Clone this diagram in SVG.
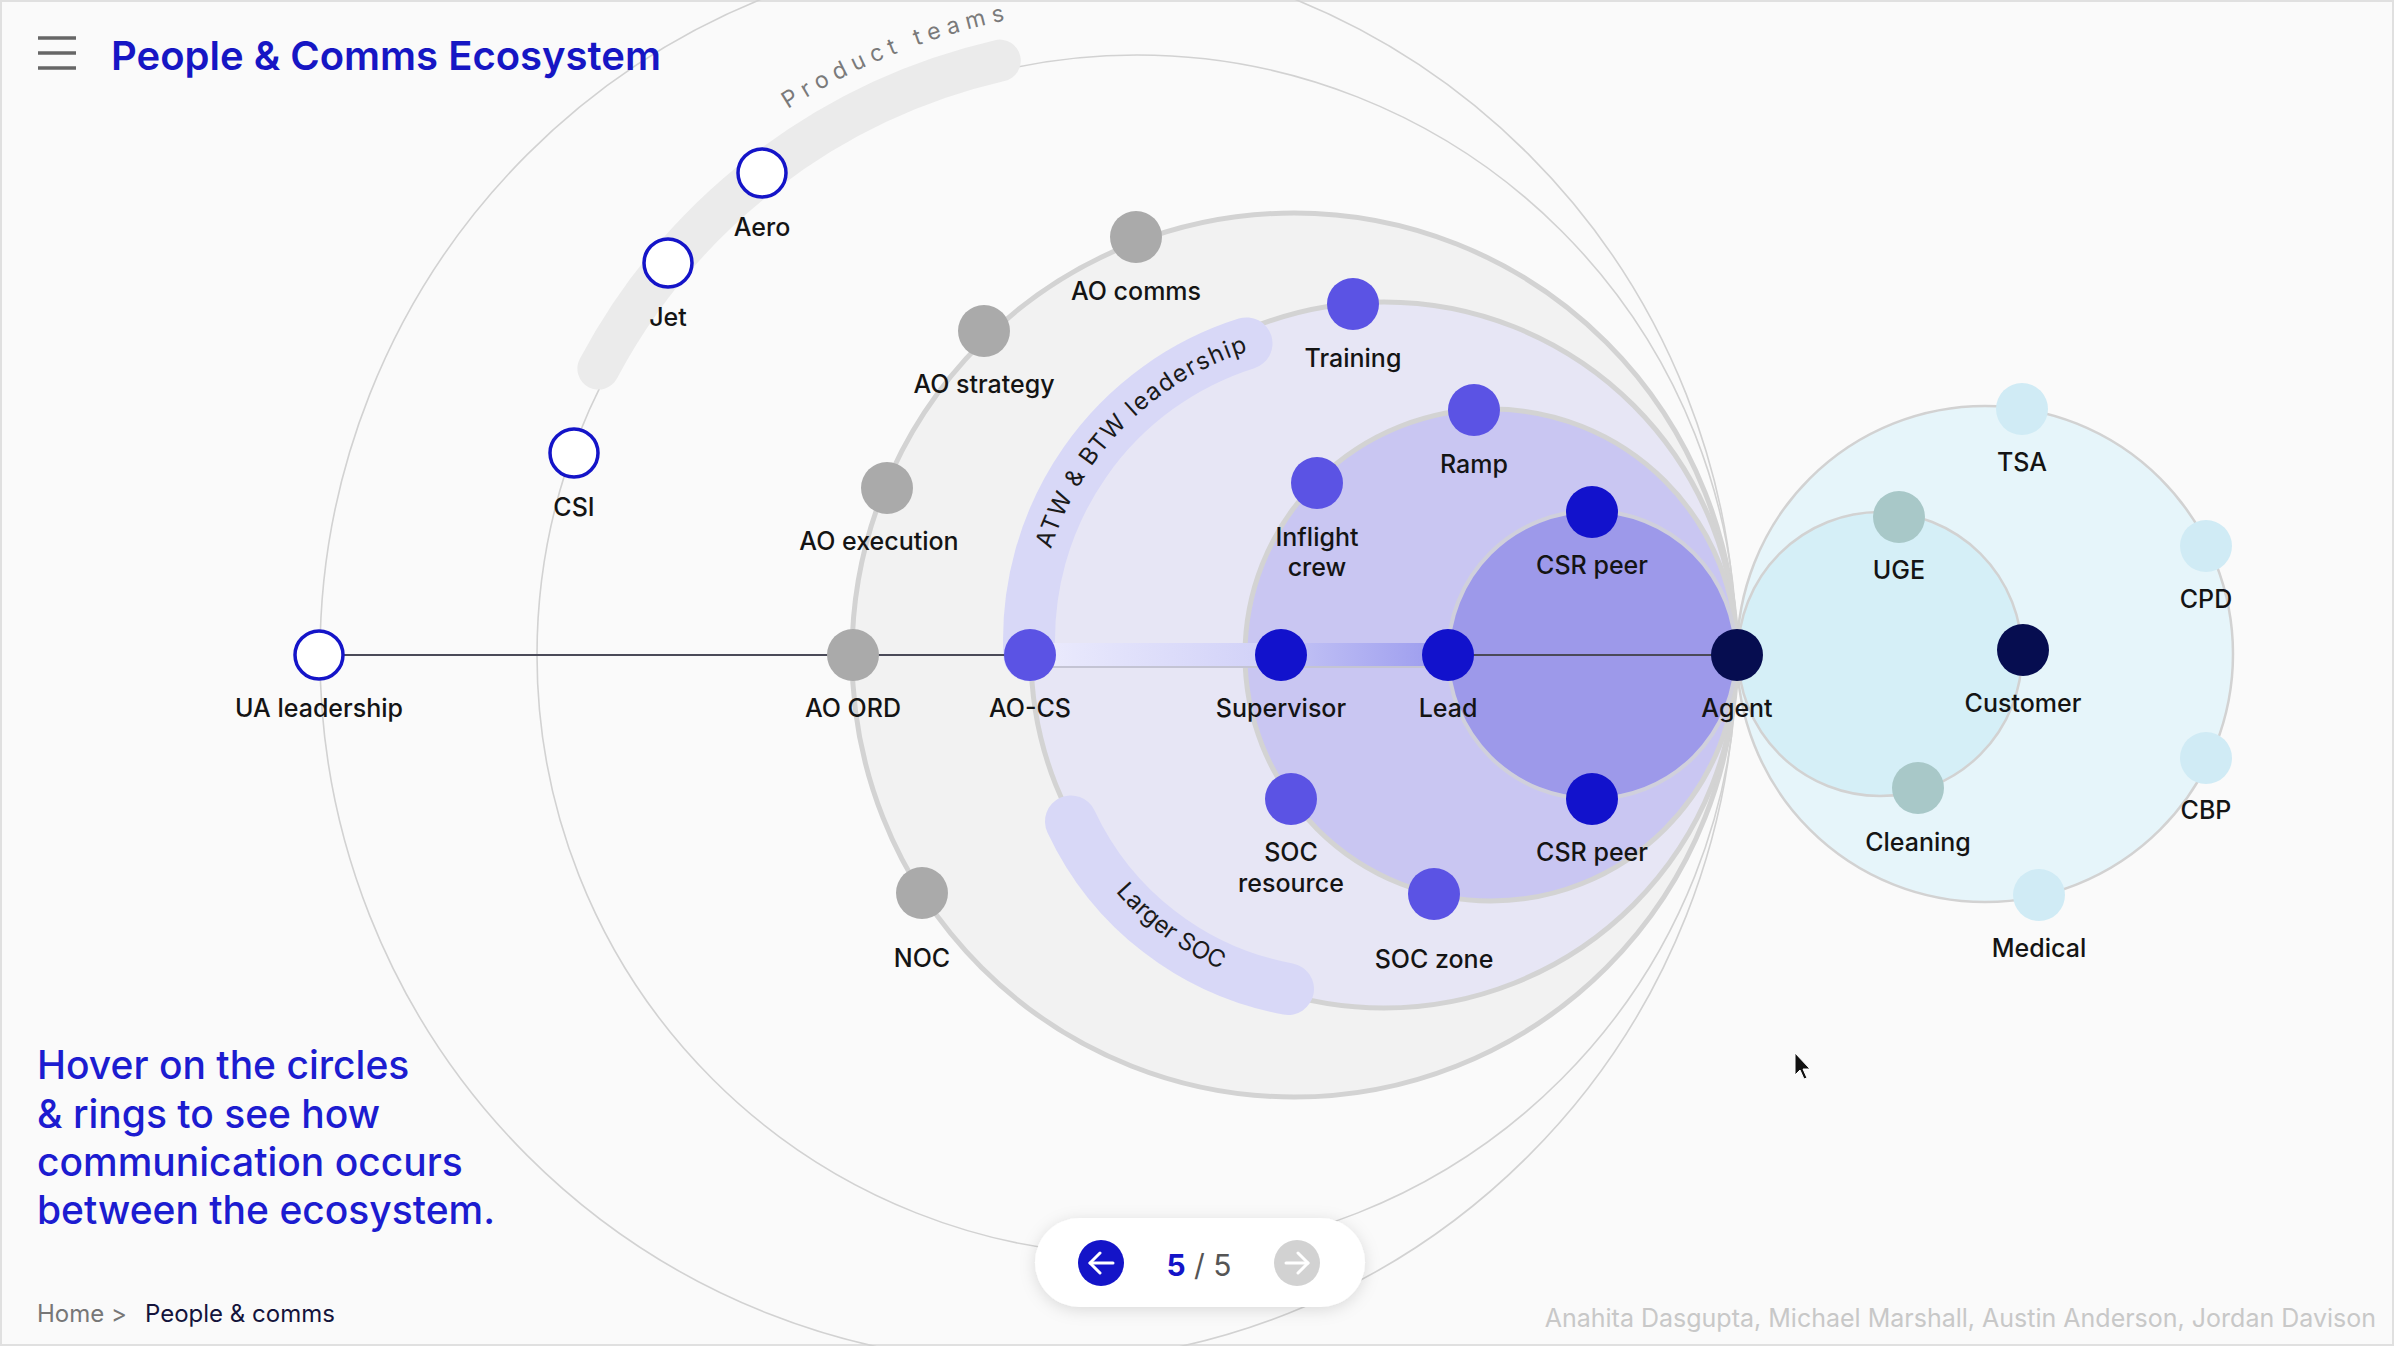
<svg xmlns="http://www.w3.org/2000/svg" width="2394" height="1346" viewBox="0 0 2394 1346">
<style>
.lbl{font-family:Inter,"Liberation Sans",sans-serif;font-size:25px;font-weight:500;fill:#141414;text-anchor:middle}
.thin{fill:none;stroke:#d2d2d2;stroke-width:1.6}
.ring{stroke:#d3d3d3;stroke-width:5}
.open{fill:#ffffff;stroke:#1414c8;stroke-width:3.5}
.gray{fill:#aaaaaa}
.mid{fill:#5b53e4}
.deep{fill:#1212cc}
.navy{fill:#060d50}
.lb{fill:#d0ebf5}
.teal{fill:#a8c8c8}
.band{fill:none;stroke-linecap:round}
.arc{font-family:Inter,"Liberation Sans",sans-serif;font-size:24px;fill:#1a1a1a}
</style>
<defs>
<linearGradient id="barg" x1="0" y1="0" x2="1" y2="0">
<stop offset="0" stop-color="#ececfd"/>
<stop offset="0.55" stop-color="#d2d2f8"/>
<stop offset="0.62" stop-color="#c2c2f5"/>
<stop offset="1" stop-color="#9a9aee"/>
</linearGradient>
<filter id="sh" x="-20%" y="-40%" width="140%" height="180%">
<feDropShadow dx="0" dy="3" stdDeviation="8" flood-color="#000" flood-opacity="0.13"/>
</filter>
<path id="ptPath" d="M 787.9 109.1 A 648 648 0 0 1 1249.5 16.8"/>
<path id="atwPath" d="M 1037 640 A 303 303 0 0 1 1340 337"/>
<path id="socPath" d="M 1046.6 747.1 A 300 300 0 0 0 1394.1 990.4"/>
</defs>
<rect x="0" y="0" width="2394" height="1346" fill="#fafafa"/>
<rect x="1" y="1" width="2392" height="1344" fill="none" stroke="#e0e0e0" stroke-width="2"/>

<g id="rings">
<circle class="thin" cx="1028" cy="655" r="708"/>
<circle class="thin" cx="1137" cy="655" r="600"/>
<path class="band" d="M 598.4 368.6 A 610 610 0 0 1 999.8 60.6" stroke="#ebebeb" stroke-width="42"/>
<text font-family="Inter, 'Liberation Sans', sans-serif" font-size="23" fill="#7a7a7a" letter-spacing="6.5"><textPath href="#ptPath">Product teams</textPath></text>
<circle class="ring" cx="1294" cy="655" r="442" fill="#f2f2f2"/>
<circle class="ring" cx="1384" cy="655" r="353" fill="#e7e6f5"/>
<circle class="ring" cx="1491" cy="655" r="246" fill="#c9c6f2"/>
<circle cx="1592" cy="655" r="144" fill="#9d99ea" stroke="#d0d0dc" stroke-width="4"/>
<circle cx="1985" cy="654" r="248" fill="#e6f5fa" stroke="#d2d2d2" stroke-width="2.5"/>
<circle cx="1880" cy="654" r="142" fill="#d5eff7" stroke="#d2d2d2" stroke-width="2.5"/>
<path class="band" d="M 1029.4 655.2 A 311 311 0 0 1 1246.5 343.4" stroke="#d8d8f7" stroke-width="52"/>
<path class="band" d="M 1071 821.4 A 299 299 0 0 0 1288 989" stroke="#d8d8f7" stroke-width="52"/>
<text class="arc" letter-spacing="1.5" text-anchor="middle"><textPath href="#atwPath" startOffset="238">ATW &amp; BTW leadership</textPath></text>
<text class="arc" text-anchor="middle"><textPath href="#socPath" startOffset="228">Larger SOC</textPath></text>
</g>

<g id="connectors">
<line x1="319" y1="655" x2="1737" y2="655" stroke="#4a4a58" stroke-width="2"/>
<rect x="1030" y="643" width="418" height="24" fill="url(#barg)"/>
<line x1="1030" y1="667" x2="1448" y2="667" stroke="#c4c4d4" stroke-width="2"/>
</g>

<g id="n-ua"><circle class="open" cx="319" cy="655" r="24"/><text class="lbl" x="319" y="717">UA leadership</text></g>
<g id="n-csi"><circle class="open" cx="574" cy="453" r="24"/><text class="lbl" x="574" y="516">CSI</text></g>
<g id="n-jet"><circle class="open" cx="668" cy="263" r="24"/><text class="lbl" x="668" y="326">Jet</text></g>
<g id="n-aero"><circle class="open" cx="762" cy="173" r="24"/><text class="lbl" x="762" y="236">Aero</text></g>
<g id="n-aocomms"><circle class="gray" cx="1136" cy="237" r="26"/><text class="lbl" x="1136" y="300">AO comms</text></g>
<g id="n-aostrategy"><circle class="gray" cx="984" cy="331" r="26"/><text class="lbl" x="984" y="393">AO strategy</text></g>
<g id="n-aoexec"><circle class="gray" cx="887" cy="488" r="26"/><text class="lbl" x="879" y="550">AO execution</text></g>
<g id="n-aoord"><circle class="gray" cx="853" cy="655" r="26"/><text class="lbl" x="853" y="717">AO ORD</text></g>
<g id="n-noc"><circle class="gray" cx="922" cy="893" r="26"/><text class="lbl" x="922" y="967">NOC</text></g>
<g id="n-aocs"><circle class="mid" cx="1030" cy="655" r="26"/><text class="lbl" x="1030" y="717">AO-CS</text></g>
<g id="n-training"><circle class="mid" cx="1353" cy="304" r="26"/><text class="lbl" x="1353" y="367">Training</text></g>
<g id="n-ramp"><circle class="mid" cx="1474" cy="410" r="26"/><text class="lbl" x="1474" y="473">Ramp</text></g>
<g id="n-inflight"><circle class="mid" cx="1317" cy="483" r="26"/><text class="lbl" x="1317" y="546">Inflight</text><text class="lbl" x="1317" y="576">crew</text></g>
<g id="n-supervisor"><circle class="deep" cx="1281" cy="655" r="26"/><text class="lbl" x="1281" y="717">Supervisor</text></g>
<g id="n-socres"><circle class="mid" cx="1291" cy="799" r="26"/><text class="lbl" x="1291" y="861">SOC</text><text class="lbl" x="1291" y="892">resource</text></g>
<g id="n-soczone"><circle class="mid" cx="1434" cy="894" r="26"/><text class="lbl" x="1434" y="968">SOC zone</text></g>
<g id="n-lead"><circle class="deep" cx="1448" cy="655" r="26"/><text class="lbl" x="1448" y="717">Lead</text></g>
<g id="n-csr1"><circle class="deep" cx="1592" cy="512" r="26"/><text class="lbl" x="1592" y="574">CSR peer</text></g>
<g id="n-csr2"><circle class="deep" cx="1592" cy="799" r="26"/><text class="lbl" x="1592" y="861">CSR peer</text></g>
<g id="n-agent"><circle class="navy" cx="1737" cy="655" r="26"/><text class="lbl" x="1737" y="717">Agent</text></g>
<g id="n-customer"><circle class="navy" cx="2023" cy="650" r="26"/><text class="lbl" x="2023" y="712">Customer</text></g>
<g id="n-uge"><circle class="teal" cx="1899" cy="517" r="26"/><text class="lbl" x="1899" y="579">UGE</text></g>
<g id="n-cleaning"><circle class="teal" cx="1918" cy="788" r="26"/><text class="lbl" x="1918" y="851">Cleaning</text></g>
<g id="n-tsa"><circle class="lb" cx="2022" cy="409" r="26"/><text class="lbl" x="2022" y="471">TSA</text></g>
<g id="n-cpd"><circle class="lb" cx="2206" cy="546" r="26"/><text class="lbl" x="2206" y="608">CPD</text></g>
<g id="n-cbp"><circle class="lb" cx="2206" cy="758" r="26"/><text class="lbl" x="2206" y="819">CBP</text></g>
<g id="n-medical"><circle class="lb" cx="2039" cy="895" r="26"/><text class="lbl" x="2039" y="957">Medical</text></g>

<g id="header">
<g stroke="#666" stroke-width="3.5"><line x1="38" y1="38" x2="76" y2="38"/><line x1="38" y1="53" x2="76" y2="53"/><line x1="38" y1="68" x2="76" y2="68"/></g>
<text x="111" y="70" font-family="Inter, 'Liberation Sans', sans-serif" font-size="40" font-weight="600" fill="#1616c4">People &amp; Comms Ecosystem</text>
</g>

<g id="hint" font-family="Inter, 'Liberation Sans', sans-serif" font-size="39" font-weight="500" fill="#1c1cd0">
<text x="37" y="1079">Hover on the circles</text>
<text x="37" y="1128">&amp; rings to see how</text>
<text x="37" y="1176">communication occurs</text>
<text x="37" y="1224">between the ecosystem.</text>
</g>

<g id="breadcrumb" font-family="Inter, 'Liberation Sans', sans-serif" font-size="24">
<text x="37" y="1322" fill="#777">Home &gt;</text>
<text x="145" y="1322" fill="#14143c">People &amp; comms</text>
</g>

<text x="2376" y="1327" text-anchor="end" font-family="Inter, 'Liberation Sans', sans-serif" font-size="25" fill="#c8c8c8">Anahita Dasgupta, Michael Marshall, Austin Anderson, Jordan Davison</text>

<g id="pager">
<rect x="1035" y="1218" width="330" height="89" rx="44.5" fill="#ffffff" filter="url(#sh)"/>
<circle cx="1101" cy="1263" r="23" fill="#1414c8"/>
<g stroke="#fff" stroke-width="3" fill="none" stroke-linecap="round" stroke-linejoin="round"><line x1="1090" y1="1263" x2="1113" y2="1263"/><polyline points="1100,1253 1090,1263 1100,1273"/></g>
<circle cx="1297" cy="1263" r="23" fill="#d2d2d2"/>
<g stroke="#fff" stroke-width="3" fill="none" stroke-linecap="round" stroke-linejoin="round"><line x1="1286" y1="1263" x2="1308" y2="1263"/><polyline points="1298,1253 1308,1263 1298,1273"/></g>
<text x="1199" y="1276" text-anchor="middle" font-family="Inter, 'Liberation Sans', sans-serif" font-size="30"><tspan font-weight="700" fill="#1414c8">5</tspan><tspan fill="#555"> / 5</tspan></text>
</g>

<polygon points="1795,1053 1795,1075 1800,1070 1804,1079 1807,1078 1803,1069 1810,1069" fill="#111" stroke="#fff" stroke-width="1"/>
</svg>
